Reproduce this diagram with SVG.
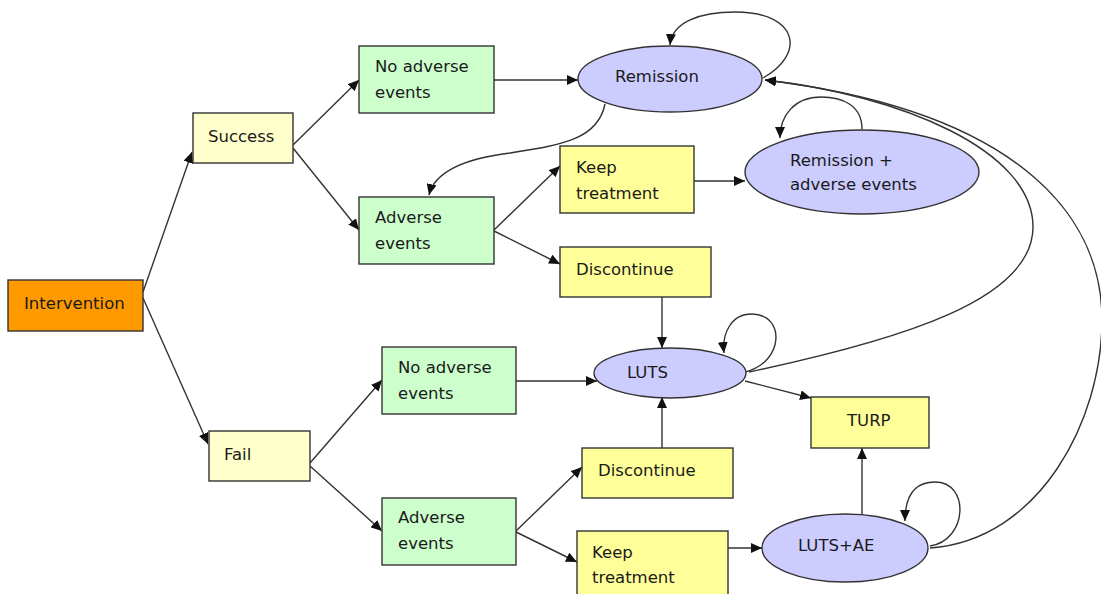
<svg xmlns="http://www.w3.org/2000/svg" width="1101" height="594" viewBox="0 0 1101 594">
<style>
.box{stroke:#333;stroke-width:1.4}
.or{fill:#FF9900}
.ly{fill:#FFFFCC}
.gr{fill:#CCFFCC}
.ye{fill:#FFFF99}
.el{fill:#CCCCFF;stroke:#333;stroke-width:1.4}
text{font-family:"DejaVu Sans","Liberation Sans",sans-serif;font-size:16.5px;fill:#1a1a1a}
.c{fill:none;stroke:#333;stroke-width:1.4}
</style>
<defs>
<marker id="a" markerUnits="userSpaceOnUse" markerWidth="12" markerHeight="10" refX="11" refY="5" orient="auto">
<path d="M0,0 L11,5 L0,10 Z" fill="#111"/>
</marker>
</defs>
<rect width="1101" height="594" fill="#fff"/>
<g id="connectors">
<line class="c" x1="143" y1="292" x2="192" y2="152" marker-end="url(#a)"/>
<line class="c" x1="143" y1="298" x2="208" y2="444" marker-end="url(#a)"/>
<line class="c" x1="293" y1="145" x2="359" y2="80" marker-end="url(#a)"/>
<line class="c" x1="293" y1="148" x2="359" y2="230" marker-end="url(#a)"/>
<line class="c" x1="494" y1="80" x2="578" y2="80" marker-end="url(#a)"/>
<line class="c" x1="494" y1="230" x2="560" y2="166" marker-end="url(#a)"/>
<line class="c" x1="494" y1="231" x2="560" y2="264" marker-end="url(#a)"/>
<line class="c" x1="694" y1="181" x2="745" y2="181" marker-end="url(#a)"/>
<path class="c" d="M605,104 C598,140 560,145 510,153 C470,158 435,170 429,195" marker-end="url(#a)"/>
<path class="c" d="M763,78 C805,55 800,12 735,12 C700,12 672,22 670,45" marker-end="url(#a)"/>
<path class="c" d="M862,129 C862,105 842,97 821,97 C795,97 780,115 780,138" marker-end="url(#a)"/>
<line class="c" x1="662" y1="297" x2="662" y2="348" marker-end="url(#a)"/>
<line class="c" x1="516" y1="381" x2="597" y2="381" marker-end="url(#a)"/>
<line class="c" x1="662" y1="448" x2="662" y2="397" marker-end="url(#a)"/>
<line class="c" x1="310" y1="463" x2="382" y2="380" marker-end="url(#a)"/>
<line class="c" x1="310" y1="466" x2="382" y2="531" marker-end="url(#a)"/>
<line class="c" x1="516" y1="531" x2="582" y2="467" marker-end="url(#a)"/>
<line class="c" x1="516" y1="532" x2="577" y2="562" marker-end="url(#a)"/>
<line class="c" x1="728" y1="548" x2="762" y2="548" marker-end="url(#a)"/>
<line class="c" x1="862" y1="514" x2="862" y2="448" marker-end="url(#a)"/>
<line class="c" x1="745" y1="381" x2="811" y2="398" marker-end="url(#a)"/>
<path class="c" d="M745,372 C785,362 785,314 752,314 C730,314 722,335 724,353" marker-end="url(#a)"/>
<path class="c" d="M749,372 C900,340 1033,300 1033,227 C1033,150 900,95 765,80" marker-end="url(#a)"/>
<path class="c" d="M930,548 C1040,540 1102,420 1102,320 C1102,210 1010,110 765,80" marker-end="url(#a)"/>
<path class="c" d="M930,546 C968,540 970,482 935,482 C912,482 905,500 905,521" marker-end="url(#a)"/>
</g>
<g id="intervention"><rect class="box or" x="8" y="280" width="135" height="51"/><text x="24" y="309">Intervention</text></g>
<g id="success"><rect class="box ly" x="193" y="113" width="100" height="50"/><text x="208" y="142">Success</text></g>
<g id="fail"><rect class="box ly" x="209" y="431" width="101" height="50"/><text x="224" y="460">Fail</text></g>
<g id="noae-top"><rect class="box gr" x="359" y="46" width="135" height="67"/><text x="375" y="72">No adverse</text><text x="375" y="98">events</text></g>
<g id="ae-top"><rect class="box gr" x="359" y="197" width="135" height="67"/><text x="375" y="223">Adverse</text><text x="375" y="249">events</text></g>
<g id="keep-top"><rect class="box ye" x="560" y="146" width="134" height="67"/><text x="576" y="173">Keep</text><text x="576" y="199">treatment</text></g>
<g id="disc-top"><rect class="box ye" x="560" y="247" width="151" height="50"/><text x="576" y="275">Discontinue</text></g>
<g id="remission"><ellipse class="el" cx="670" cy="79" rx="92" ry="33"/><text x="615" y="82">Remission</text></g>
<g id="remission-ae"><ellipse class="el" cx="862" cy="172" rx="117" ry="42"/><text x="790" y="166">Remission +</text><text x="790" y="190">adverse events</text></g>
<g id="noae-bot"><rect class="box gr" x="382" y="347" width="134" height="67"/><text x="398" y="373">No adverse</text><text x="398" y="399">events</text></g>
<g id="ae-bot"><rect class="box gr" x="382" y="498" width="134" height="67"/><text x="398" y="523">Adverse</text><text x="398" y="549">events</text></g>
<g id="luts"><ellipse class="el" cx="670" cy="373" rx="76" ry="25"/><text x="627" y="378">LUTS</text></g>
<g id="disc-bot"><rect class="box ye" x="582" y="448" width="151" height="50"/><text x="598" y="476">Discontinue</text></g>
<g id="keep-bot"><rect class="box ye" x="577" y="531" width="151" height="68"/><text x="592" y="558">Keep</text><text x="592" y="583">treatment</text></g>
<g id="turp"><rect class="box ye" x="811" y="397" width="118" height="51"/><text x="847" y="426">TURP</text></g>
<g id="luts-ae"><ellipse class="el" cx="845" cy="548" rx="83" ry="34"/><text x="798" y="551">LUTS+AE</text></g>
</svg>
